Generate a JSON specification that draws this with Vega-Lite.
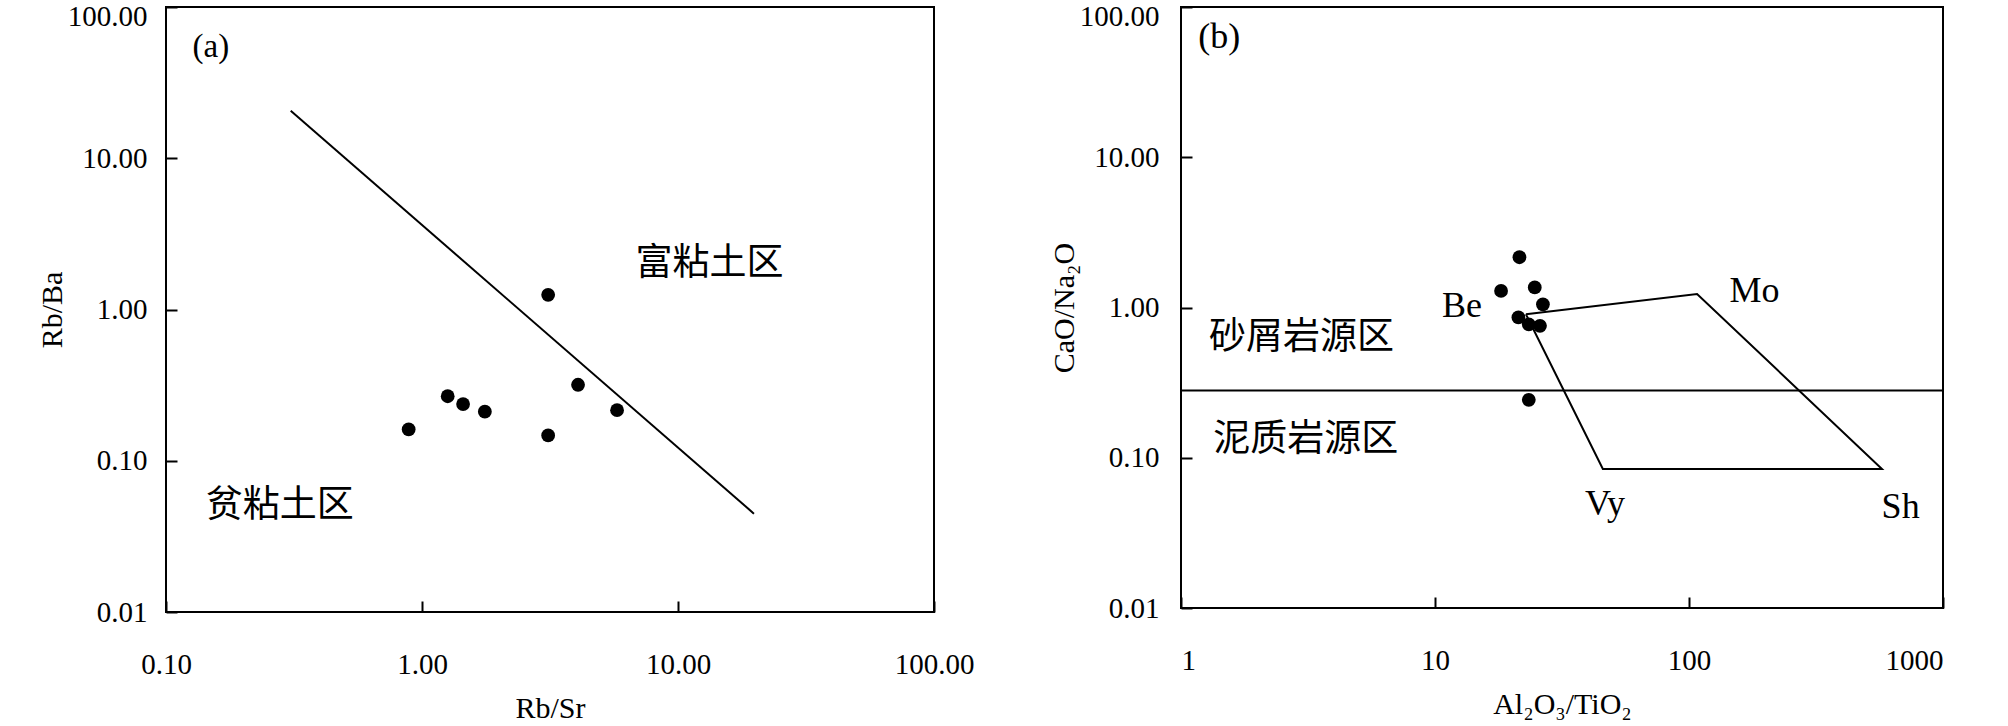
{
  "$schema": "https://vega.github.io/schema/vega-lite/v6.json",
  "background": "white",
  "autosize": {"type": "pad"},
  "padding": {"left": 36, "top": 1, "right": 5, "bottom": 0},
  "bounds": "flush",
  "spacing": 247,
  "config": {
    "view": {"stroke": "black", "strokeWidth": 2},
    "axis": {
      "labelFont": "Liberation Serif",
      "labelFontSize": 29,
      "labelColor": "black",
      "titleFont": "Liberation Serif",
      "titleFontSize": 30,
      "titleFontWeight": "normal",
      "titleColor": "black",
      "tickColor": "black",
      "tickSize": -11,
      "tickWidth": 2,
      "domain": false,
      "grid": false
    }
  },
  "hconcat": [
    {
      "width": 768,
      "height": 605,
      "encoding": {
        "x": {
          "field": "x", "type": "quantitative",
          "scale": {"type": "log", "domain": [0.1, 100]},
          "axis": {"values": [0.1, 1, 10, 100], "format": ".2f", "title": "Rb/Sr", "labelPadding": 49, "titlePadding": 14, "labelFlush": false}
        },
        "y": {
          "field": "y", "type": "quantitative",
          "scale": {"type": "log", "domain": [0.01, 100]},
          "axis": {"values": [0.01, 0.1, 1, 10, 100], "format": ".2f", "title": "Rb/Ba", "labelPadding": 30, "titlePadding": 0, "labelOffset": {"condition": {"test": "datum.value == 100", "value": 9}, "value": 0}}
        }
      },
      "layer": [
        {
          "data": {"values": [{"x": 0.307, "y": 20.6}, {"x": 19.8, "y": 0.0447}]},
          "mark": {"type": "line", "color": "black", "strokeWidth": 2}
        },
        {
          "data": {"values": [
            {"x": 0.887, "y": 0.161},
            {"x": 1.26, "y": 0.267},
            {"x": 1.447, "y": 0.237},
            {"x": 1.76, "y": 0.211},
            {"x": 3.11, "y": 0.147},
            {"x": 3.11, "y": 1.25},
            {"x": 4.07, "y": 0.318},
            {"x": 5.78, "y": 0.216}
          ]},
          "mark": {"type": "point", "filled": true, "color": "black", "opacity": 1, "size": 190}
        },
        {
          "data": {"values": [
            {"x": 6.82, "y": 2.0, "t": "富粘土区"},
            {"x": 0.143, "y": 0.0504, "t": "贫粘土区"}
          ]},
          "mark": {"type": "text", "align": "left", "baseline": "middle", "font": "Noto Sans CJK SC", "fontSize": 37, "color": "black"},
          "encoding": {"text": {"field": "t"}}
        },
        {
          "data": {"values": [{"x": 0.127, "y": 54.4, "t": "(a)"}]},
          "mark": {"type": "text", "align": "left", "baseline": "middle", "font": "Liberation Serif", "fontSize": 33, "color": "black"},
          "encoding": {"text": {"field": "t"}}
        }
      ]
    },
    {
      "width": 762,
      "height": 601,
      "encoding": {
        "x": {
          "field": "x", "type": "quantitative",
          "scale": {"type": "log", "domain": [1, 1000]},
          "axis": {"values": [1, 10, 100, 1000], "format": "d", "title": "Al₂O₃/TiO₂", "labelPadding": 49, "titlePadding": 14}
        },
        "y": {
          "field": "y", "type": "quantitative",
          "scale": {"type": "log", "domain": [0.01, 100]},
          "axis": {"values": [0.01, 0.1, 1, 10, 100], "format": ".2f", "title": "CaO/Na₂O", "labelPadding": 33, "titlePadding": 0, "labelOffset": {"condition": {"test": "datum.value == 100", "value": 9}, "value": 0}}
        }
      },
      "layer": [
        {
          "data": {"values": [{"x": 1, "y": 0.28}, {"x": 1000, "y": 0.28}]},
          "mark": {"type": "line", "color": "black", "strokeWidth": 2}
        },
        {
          "data": {"values": [
            {"x": 22.8, "y": 0.902, "o": 1},
            {"x": 107.6, "y": 1.23, "o": 2},
            {"x": 575, "y": 0.0842, "o": 3},
            {"x": 45.8, "y": 0.0842, "o": 4},
            {"x": 22.8, "y": 0.902, "o": 5}
          ]},
          "mark": {"type": "line", "color": "black", "strokeWidth": 2},
          "encoding": {"order": {"field": "o", "type": "quantitative"}}
        },
        {
          "data": {"values": [
            {"x": 21.5, "y": 2.16},
            {"x": 18.2, "y": 1.29},
            {"x": 24.7, "y": 1.36},
            {"x": 26.6, "y": 1.05},
            {"x": 21.3, "y": 0.859},
            {"x": 23.4, "y": 0.772},
            {"x": 25.9, "y": 0.755},
            {"x": 23.4, "y": 0.243}
          ]},
          "mark": {"type": "point", "filled": true, "color": "black", "opacity": 1, "size": 190}
        },
        {
          "data": {"values": [
            {"x": 1.29, "y": 0.628, "t": "砂屑岩源区"},
            {"x": 1.34, "y": 0.132, "t": "泥质岩源区"}
          ]},
          "mark": {"type": "text", "align": "left", "baseline": "middle", "font": "Noto Sans CJK SC", "fontSize": 37, "color": "black"},
          "encoding": {"text": {"field": "t"}}
        },
        {
          "data": {"values": [
            {"x": 144.5, "y": 1.28, "t": "Mo"},
            {"x": 1.17, "y": 63, "t": "(b)"}
          ]},
          "mark": {"type": "text", "align": "left", "baseline": "middle", "font": "Liberation Serif", "fontSize": 36, "color": "black"},
          "encoding": {"text": {"field": "t"}}
        },
        {
          "data": {"values": [
            {"x": 15.3, "y": 1.03, "t": "Be"}
          ]},
          "mark": {"type": "text", "align": "right", "baseline": "middle", "font": "Liberation Serif", "fontSize": 36, "color": "black"},
          "encoding": {"text": {"field": "t"}}
        },
        {
          "data": {"values": [
            {"x": 46.7, "y": 0.0489, "t": "Vy"},
            {"x": 681, "y": 0.0471, "t": "Sh"}
          ]},
          "mark": {"type": "text", "align": "center", "baseline": "middle", "font": "Liberation Serif", "fontSize": 36, "color": "black"},
          "encoding": {"text": {"field": "t"}}
        }
      ]
    }
  ]
}
